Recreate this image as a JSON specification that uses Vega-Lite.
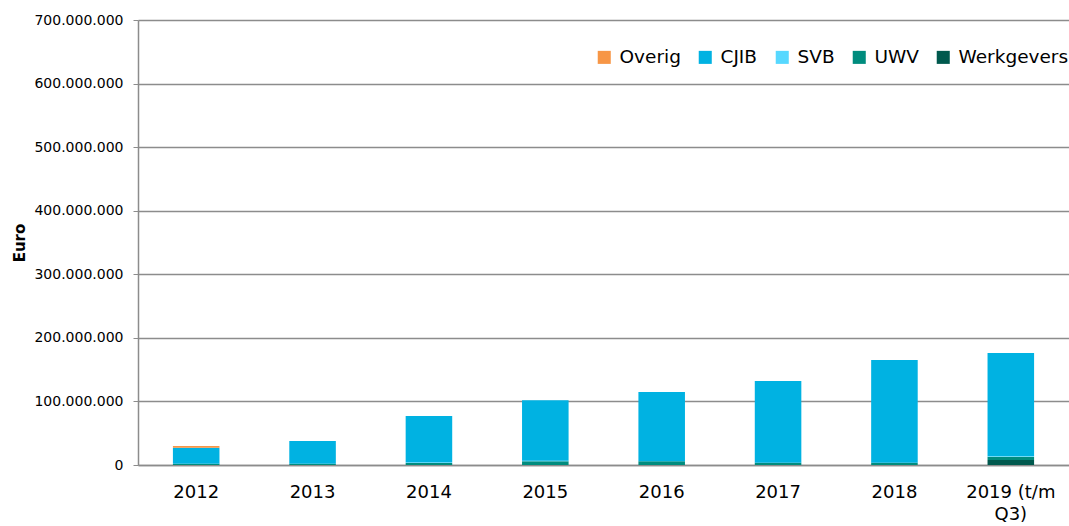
{
  "$schema": "https://vega.github.io/schema/vega-lite/v6.json",
  "autosize": "none",
  "width": 931,
  "height": 445,
  "padding": {"left": 138, "top": 20, "right": 0, "bottom": 61},
  "background": "white",
  "config": {
    "locale": {"number": {"decimal": ",", "thousands": ".", "grouping": [3], "currency": ["€", ""]}},
    "view": {"stroke": null},
    "font": "DejaVu Sans"
  },
  "data": {
    "values": [
      {"jaar": "2012", "bron": "UWV", "bedrag": 2000000},
      {"jaar": "2012", "bron": "CJIB", "bedrag": 25000000},
      {"jaar": "2012", "bron": "Overig", "bedrag": 2800000},
      {"jaar": "2013", "bron": "UWV", "bedrag": 2000000},
      {"jaar": "2013", "bron": "CJIB", "bedrag": 35700000},
      {"jaar": "2014", "bron": "UWV", "bedrag": 3000000},
      {"jaar": "2014", "bron": "SVB", "bedrag": 1500000},
      {"jaar": "2014", "bron": "CJIB", "bedrag": 72500000},
      {"jaar": "2015", "bron": "UWV", "bedrag": 6000000},
      {"jaar": "2015", "bron": "SVB", "bedrag": 500000},
      {"jaar": "2015", "bron": "CJIB", "bedrag": 95500000},
      {"jaar": "2016", "bron": "UWV", "bedrag": 6000000},
      {"jaar": "2016", "bron": "CJIB", "bedrag": 109000000},
      {"jaar": "2017", "bron": "UWV", "bedrag": 3500000},
      {"jaar": "2017", "bron": "CJIB", "bedrag": 128500000},
      {"jaar": "2018", "bron": "UWV", "bedrag": 3500000},
      {"jaar": "2018", "bron": "CJIB", "bedrag": 161500000},
      {"jaar": "2019 (t/m Q3)", "bron": "Werkgevers", "bedrag": 8000000},
      {"jaar": "2019 (t/m Q3)", "bron": "UWV", "bedrag": 5000000},
      {"jaar": "2019 (t/m Q3)", "bron": "SVB", "bedrag": 1000000},
      {"jaar": "2019 (t/m Q3)", "bron": "CJIB", "bedrag": 162000000}
    ]
  },
  "transform": [
    {"calculate": "indexof(['Werkgevers','UWV','SVB','CJIB','Overig'], datum.bron)", "as": "volgorde"}
  ],
  "mark": {"type": "bar"},
  "encoding": {
    "x": {
      "field": "jaar",
      "type": "nominal",
      "sort": null,
      "scale": {"paddingInner": 0.6, "paddingOuter": 0.3},
      "axis": {
        "title": null,
        "labelAngle": 0,
        "labelFontSize": 18,
        "labelColor": "#000000",
        "labelPadding": 18,
        "labelLineHeight": 22,
        "labelExpr": "datum.label == '2019 (t/m Q3)' ? ['2019 (t/m', 'Q3)'] : datum.label",
        "ticks": false,
        "domainColor": "#8c8c8c",
        "domainWidth": 1.5,
        "grid": false
      }
    },
    "y": {
      "field": "bedrag",
      "type": "quantitative",
      "stack": "zero",
      "scale": {"domain": [0, 700000000], "nice": false},
      "axis": {
        "title": "Euro",
        "titleFontSize": 15,
        "titleFontWeight": "bold",
        "titleColor": "#000000",
        "titlePadding": 6,
        "format": ",d",
        "values": [0, 100000000, 200000000, 300000000, 400000000, 500000000, 600000000, 700000000],
        "labelFontSize": 14,
        "labelColor": "#000000",
        "labelPadding": 10,
        "tickSize": 5,
        "tickColor": "#8c8c8c",
        "domainColor": "#8c8c8c",
        "domainWidth": 1.5,
        "gridColor": "#8c8c8c",
        "gridWidth": 1.5
      }
    },
    "color": {
      "field": "bron",
      "type": "nominal",
      "scale": {
        "domain": ["Overig", "CJIB", "SVB", "UWV", "Werkgevers"],
        "range": ["#F79646", "#00B2E2", "#57D8FF", "#008C7E", "#00594E"]
      },
      "legend": {
        "title": null,
        "orient": "none",
        "legendX": 457,
        "legendY": 28,
        "direction": "horizontal",
        "symbolType": "square",
        "symbolSize": 170,
        "labelFontSize": 18.5,
        "labelColor": "#000000",
        "columnPadding": 15,
        "labelOffset": 6
      }
    },
    "order": {"field": "volgorde", "type": "quantitative"}
  }
}
